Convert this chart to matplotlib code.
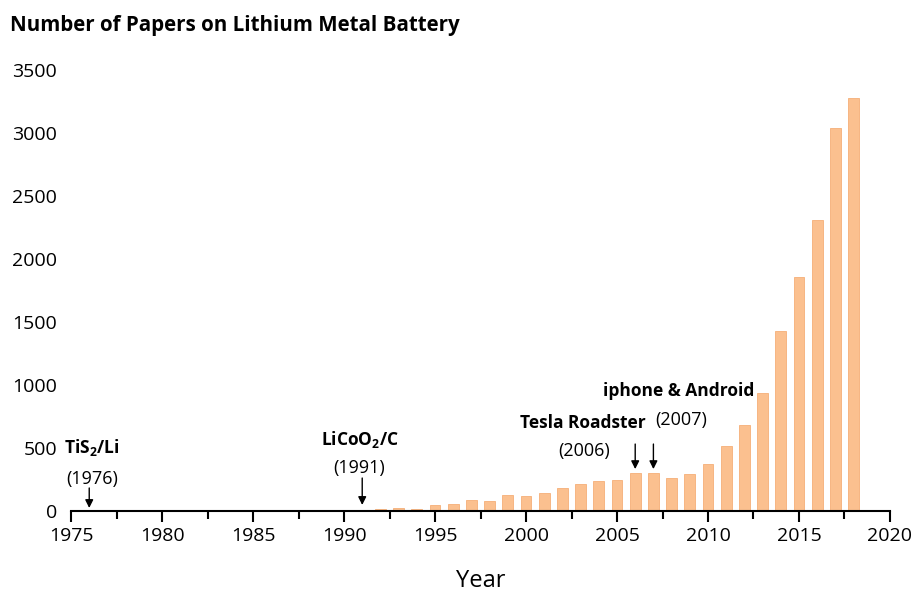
import matplotlib.pyplot as plt
import numpy as np
from matplotlib.ticker import MultipleLocator

plt.rcParams['font.family'] = ['Open Sans', 'DejaVu Sans']
plt.rcParams['mathtext.fontset'] = 'custom'
plt.rcParams['mathtext.rm'] = 'Open Sans'
plt.rcParams['mathtext.bf'] = 'Open Sans:bold'

# papers per year
years = np.arange(1992, 2019)
papers = [12, 19, 15, 43, 51, 85, 79, 124, 119, 140, 178, 210, 231, 240,
          300, 300, 260, 290, 367, 512, 679, 935, 1425, 1853, 2306, 3036, 3274]

# milestones
labels = [r'TiS$_\mathbf{2}$/Li', r'LiCoO$_\mathbf{2}$/C', 'Tesla Roadster', 'iphone & Android']
label_years = [1976, 1991, 2006, 2007]

fig = plt.figure(figsize=(9.13, 5.91), dpi=100)
ax = fig.add_axes([0.0778, 0.1362, 0.8970, 0.7454])

ax.bar(years, papers, width=0.6, color='#FBC08F', edgecolor='#F5AE78', linewidth=0.6)

ax.set_xlim(1975, 2020)
ax.set_ylim(0, 3500)
ax.xaxis.set_major_locator(MultipleLocator(5))
ax.xaxis.set_minor_locator(MultipleLocator(2.5))
ax.yaxis.set_major_locator(MultipleLocator(500))
for s in ['top', 'right', 'left']:
    ax.spines[s].set_visible(False)
ax.spines['bottom'].set_linewidth(1.5)
ax.tick_params(axis='x', which='major', length=8, width=1.5, labelsize=14, pad=4)
ax.tick_params(axis='x', which='minor', length=6, width=1.5)
ax.tick_params(axis='y', length=0, labelsize=14, pad=10)
ax.set_xlabel('Year', fontsize=17, labelpad=17)

fig.text(0.011, 0.957, 'Number of Papers on Lithium Metal Battery',
         fontsize=14.8, fontweight='bold', va='center', ha='left')

# annotations: (name x, name y, year-label x, year-label y, arrow top, arrow bottom)
ann = [
    (1976.15, 504, 1976.15, 250, 179, 20),
    (1990.9, 567, 1990.85, 337, 258, 44),
    (2003.1, 694, 2003.2, 472, 528, 329),
    (2008.4, 948, 2008.5, 718, 528, 329),
]
for name, yr, (nx, ny, yx, yy, a0, a1) in zip(labels, label_years, ann):
    ax.text(nx, ny, name, ha='center', va='center', fontsize=12.5, fontweight='bold')
    ax.text(yx, yy, '(%d)' % yr, ha='center', va='center', fontsize=13)
    ax.annotate('', xy=(yr, a1), xytext=(yr, a0),
                arrowprops=dict(arrowstyle='-|>', color='k', lw=1, mutation_scale=12,
                                shrinkA=0, shrinkB=0))

fig.savefig('out.png', dpi=100)
